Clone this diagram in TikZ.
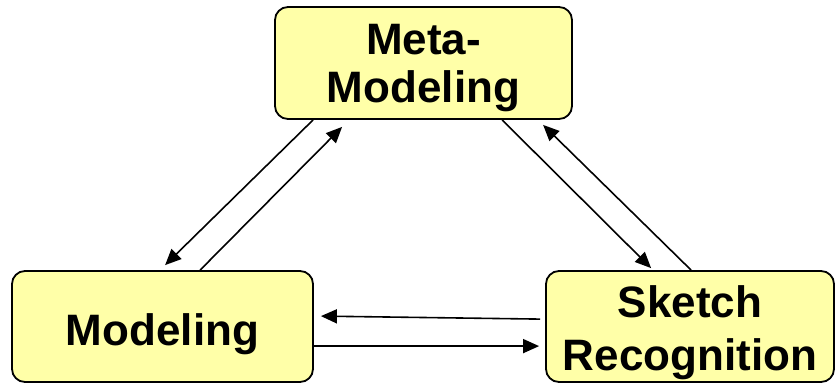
\documentclass[tikz,border=0pt]{standalone}
\usepackage{fontspec}
\setmainfont{Liberation Sans}
\usetikzlibrary{arrows.meta}
\definecolor{boxfill}{RGB}{255,255,168}
\tikzset{
  stagebox/.style={draw=black, line width=1.8pt, fill=boxfill, rounded corners=13pt,
    inner sep=0pt, align=center, font=\bfseries\fontsize{44}{48}\selectfont},
  flow/.style={draw=black, line width=1.6pt, -{Triangle[length=16pt,width=14pt]}}
}
\begin{document}
\begin{tikzpicture}[x=1pt,y=-1pt]
\useasboundingbox (0,0) rectangle (836,383);
\node[stagebox, minimum width=297pt, minimum height=112pt] (meta) at (423.5,63) {\rule{0pt}{41pt}Meta-\\Modeling};
\node[stagebox, minimum width=301pt, minimum height=111pt] (modeling) at (162.5,326.5) {\rule{0pt}{48pt}Modeling};
\node[stagebox, minimum width=288pt, minimum height=111pt,
  font=\bfseries\fontsize{44}{53}\selectfont] (sketch) at (690,326.5) {\rule{0pt}{45pt}Sketch\\Recognition};
% diagonal arrows, left pair
\draw[flow] ([xshift=39pt]meta.south west) -- ([xshift=154pt,yshift=5pt]modeling.north west);
\draw[flow] ([xshift=189pt]modeling.north west) -- ([xshift=68pt,yshift=-7pt]meta.south west);
% diagonal arrows, right pair
\draw[flow] ([xshift=228pt]meta.south west) -- ([xshift=106pt,yshift=2pt]sketch.north west);
\draw[flow] ([xshift=146pt]sketch.north west) -- ([xshift=269pt,yshift=-5pt]meta.south west);
% horizontal arrows
\draw[flow] ([xshift=-5pt,yshift=-49pt]sketch.north west) -- ([xshift=7pt,yshift=-46pt]modeling.north east);
\draw[flow] ([yshift=-76pt]modeling.north east) -- ([xshift=-6pt,yshift=-76pt]sketch.north west);
\end{tikzpicture}
\end{document}
